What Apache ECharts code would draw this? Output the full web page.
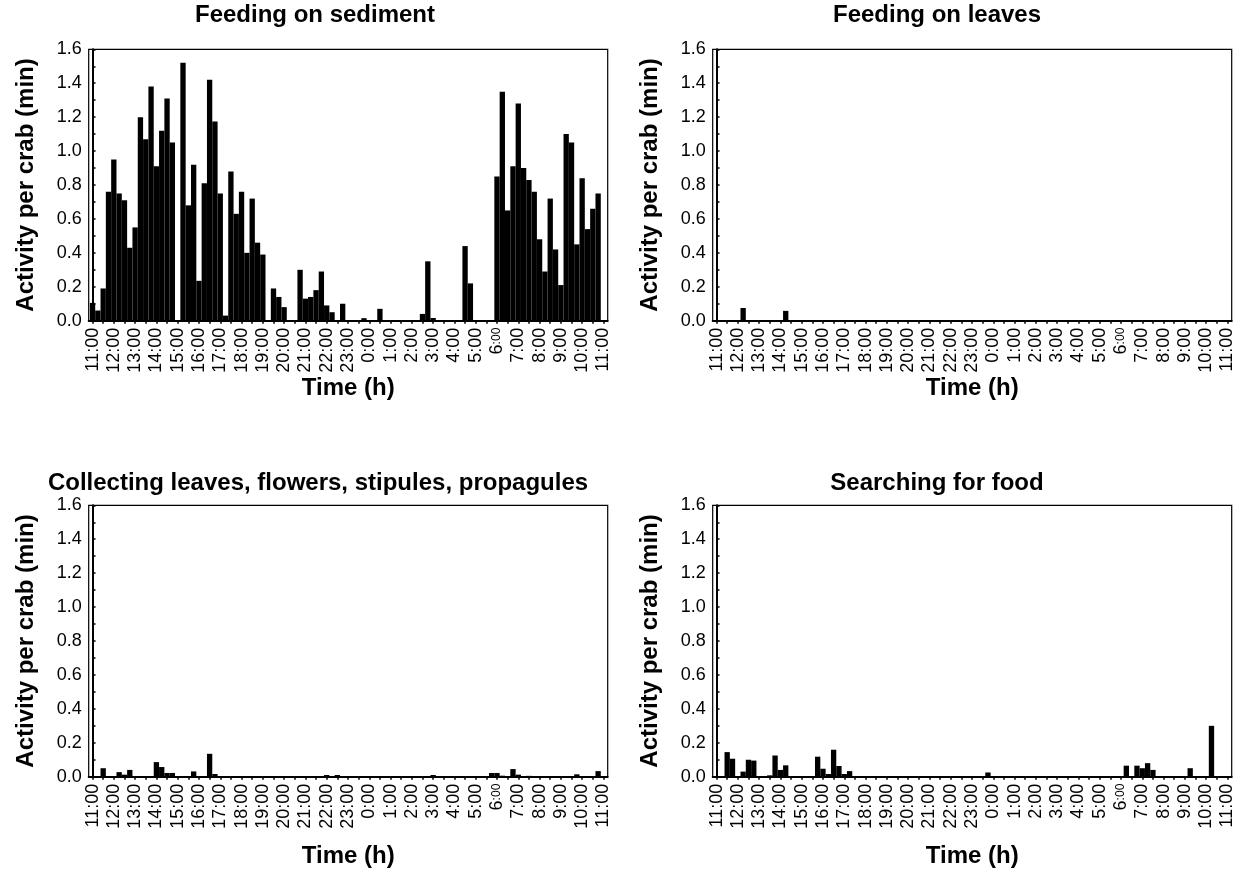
<!DOCTYPE html>
<html><head><meta charset="utf-8">
<script src="https://cdn.jsdelivr.net/npm/echarts@6/dist/echarts.min.js"></script>
<style>html,body{margin:0;padding:0;background:#fff}#c{width:1240px;height:879px}</style>
</head><body><div id="c"></div>
<script>
// ---- data ----
const panelTitles = ['Feeding on sediment', 'Feeding on leaves',
  'Collecting leaves, flowers, stipules, propagules', 'Searching for food'];
const yAxisTitle = 'Activity per crab (min)';
const xAxisTitle = 'Time (h)';
// hour tick labels, from 11:00 to 11:00 next day
const hourLabels = ['11:00','12:00','13:00','14:00','15:00','16:00','17:00','18:00','19:00','20:00',
  '21:00','22:00','23:00','0:00','1:00','2:00','3:00','4:00','5:00','6:00','7:00','8:00','9:00','10:00','11:00'];
const yTicks = [0, 0.2, 0.4, 0.6, 0.8, 1.0, 1.2, 1.4, 1.6];
// 15-min intervals, 96 per series (starting 11:00)
const sediment = [
  0.105,0.06,0.19,0.76,0.95,0.75,0.71,0.43,0.55,1.20,1.07,1.38,
  0.91,1.12,1.31,1.05,0,1.52,0.68,0.92,0.235,0.81,1.42,1.175,
  0.75,0.03,0.88,0.63,0.76,0.40,0.72,0.46,0.39,0,0.19,0.14,
  0.08,0,0,0.30,0.13,0.14,0.18,0.29,0.09,0.05,0,0.10,
  0,0,0,0.015,0,0,0.07,0,0,0,0,0,
  0,0,0.04,0.35,0.016,0,0,0,0,0,0.44,0.22,
  0,0,0,0,0.85,1.35,0.65,0.91,1.28,0.90,0.83,0.76,
  0.48,0.29,0.72,0.42,0.21,1.10,1.05,0.45,0.84,0.54,0.66,0.75];
const leaves = [
  0,0,0,0,0,0.075,0,0,0,0,0,0,
  0,0.058,0,0,0,0,0,0,0,0,0,0,
  0,0,0,0,0,0,0,0,0,0,0,0,
  0,0,0,0,0,0,0,0,0,0,0,0,
  0,0,0,0,0,0,0,0,0,0,0,0,
  0,0,0,0,0,0,0,0,0,0,0,0,
  0,0,0,0,0,0,0,0,0,0,0,0,
  0,0,0,0,0,0,0,0,0,0,0,0];
const collecting = [
  0,0,0.05,0,0,0.027,0.012,0.04,0,0,0,0,
  0.086,0.057,0.022,0.022,0,0,0,0.031,0,0,0.135,0.016,
  0,0,0,0,0,0,0,0,0,0,0,0,
  0,0,0,0,0,0,0,0,0.01,0,0.01,0,
  0,0,0,0,0,0,0,0,0,0,0,0,
  0,0,0,0,0.01,0,0,0,0,0,0,0,
  0,0,0,0.022,0.022,0.006,0,0.045,0.012,0,0.005,0,
  0,0,0,0,0,0,0,0.014,0,0,0,0.033];
const searching = [
  0,0,0.145,0.106,0,0.03,0.10,0.095,0,0,0.008,0.125,
  0.04,0.067,0,0,0,0.004,0,0.118,0.047,0.016,0.159,0.063,
  0.016,0.033,0,0,0,0,0,0,0,0,0,0,
  0,0,0,0,0,0,0,0,0,0,0,0,
  0,0,0,0.025,0,0,0,0,0,0,0,0,
  0,0,0,0,0,0,0,0,0,0,0,0,
  0,0,0,0,0,0.065,0,0.065,0.05,0.08,0.04,0,
  0,0,0,0,0,0.05,0,0,0,0.30,0,0];
const seriesData = [sediment, leaves, collecting, searching];

// ---- layout ----
const FONT = '"Liberation Sans", Arial, Helvetica, sans-serif';
const X_MIN = -0.18, X_MAX = 24.2;
const gridW = 519, gridH = 271.4;
const grids = [
  {left: 88.7, top: 49.3}, {left: 712.7, top: 49.3},
  {left: 88.7, top: 505.3}, {left: 712.7, top: 505.3}
];
const titlePos = [{x: 315, y: 3}, {x: 937, y: 3}, {x: 318, y: 471}, {x: 937, y: 471}];
const xNameGap = [54, 54, 68, 68];
const TICK_FS = 18, TITLE_FS = 24;

const hourValues = hourLabels.map((_, i) => i);
const tickValues = [];
for (let i = 0; i <= 48; i++) tickValues.push(i / 2);
const barW = gridW / (X_MAX - X_MIN) / 4;

const option = {
  animation: false,
  backgroundColor: '#fff',
  title: panelTitles.map((t, i) => ({
    text: t, left: titlePos[i].x, top: titlePos[i].y, textAlign: 'center', padding: 0,
    textStyle: {fontFamily: FONT, fontWeight: 'bold', fontSize: TITLE_FS, color: '#000'}
  })),
  grid: grids.map(g => ({left: g.left, top: g.top, width: gridW, height: gridH,
    show: true, borderColor: '#000', borderWidth: 1.2, backgroundColor: 'transparent'})),
  xAxis: grids.map((g, i) => ({
    type: 'value', gridIndex: i, min: X_MIN, max: X_MAX,
    axisLine: {show: true, onZero: false, lineStyle: {color: '#000', width: 2}},
    axisTick: {show: true, inside: false, length: 3, customValues: tickValues,
      lineStyle: {color: '#000', width: 1.5}},
    axisLabel: {
      customValues: hourValues, rotate: 90, margin: 7, color: '#000',
      fontFamily: FONT, fontSize: TICK_FS,
      formatter: v => {
        const s = hourLabels[Math.round(v)];
        if (s === '6:00') return '{a|6}{b|:00}';
        return s;
      },
      rich: {
        a: {fontFamily: FONT, fontSize: TICK_FS, color: '#000'},
        b: {fontFamily: FONT, fontSize: 12, color: '#000'}
      }
    },
    splitLine: {show: false},
    name: xAxisTitle, nameLocation: 'middle', nameGap: xNameGap[i],
    nameTextStyle: {fontFamily: FONT, fontWeight: 'bold', fontSize: TITLE_FS, color: '#000'}
  })),
  yAxis: grids.map((g, i) => ({
    type: 'value', gridIndex: i, min: yTicks[0], max: yTicks[yTicks.length - 1], interval: 0.2,
    axisLine: {show: true, lineStyle: {color: '#000', width: 2}},
    axisTick: {show: true, inside: true, length: 3, lineStyle: {color: '#000', width: 1.5}},
    minorTick: {show: true, splitNumber: 2, length: 3, lineStyle: {color: '#000', width: 1.5}},
    axisLabel: {color: '#000', fontFamily: FONT, fontSize: TICK_FS, margin: 7,
      formatter: v => v.toFixed(1)},
    splitLine: {show: false},
    name: yAxisTitle, nameLocation: 'middle', nameGap: 50, nameRotate: 90,
    nameTextStyle: {fontFamily: FONT, fontWeight: 'bold', fontSize: TITLE_FS, color: '#000'}
  })),
  series: seriesData.map((arr, i) => ({
    type: 'bar', xAxisIndex: i, yAxisIndex: i,
    data: arr.map((v, k) => [k / 4, v]),
    barWidth: barW,
    itemStyle: {color: '#000'},
    silent: true
  }))
};
const chart = echarts.init(document.getElementById('c'), null, {renderer: 'canvas'});
chart.setOption(option);
</script>
</body></html>
